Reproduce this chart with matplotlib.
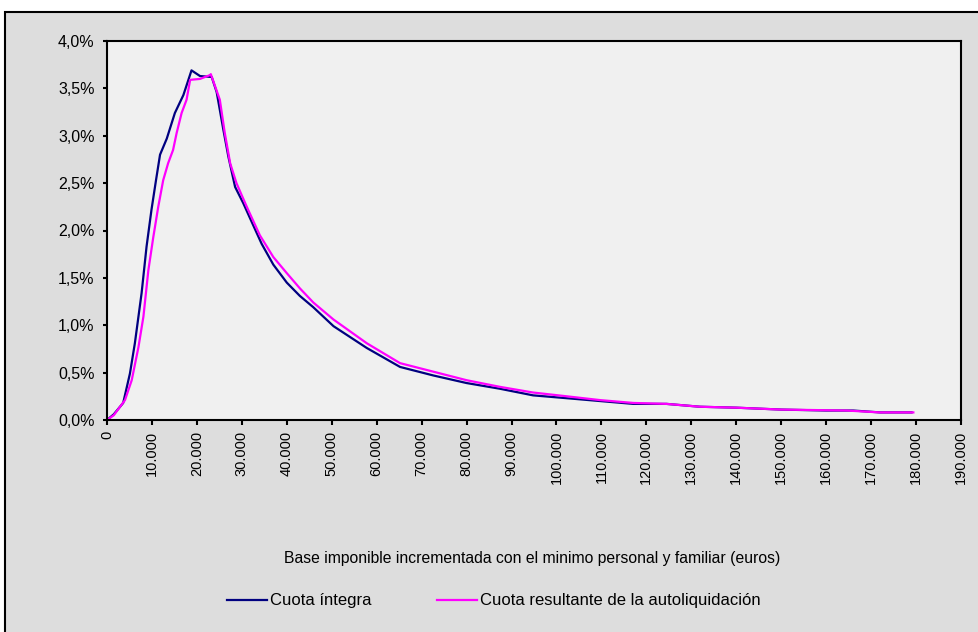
import matplotlib.pyplot as plt
from matplotlib.patches import Rectangle
from matplotlib.ticker import FuncFormatter

plt.rcParams['font.family'] = ['Liberation Sans', 'DejaVu Sans']

# Base imponible (euros) y porcentaje de la cuota en cada tramo
base_integra = [0, 1500, 3600, 5100, 6200, 7700, 8800, 9900, 10900, 11800,
                13300, 15100, 17000, 18800, 20700, 23300, 24400, 25900, 27000,
                28500, 30300, 32200, 34400, 37000, 40000, 42900, 45900, 50400,
                57800, 65200, 72600, 80000, 87400, 94800, 102300, 109700,
                117100, 124500, 131900, 140000, 150000, 160000, 166000,
                172000, 179000]
cuota_integra = [0.0, 0.06, 0.18, 0.49, 0.81, 1.34, 1.83, 2.22, 2.53, 2.80,
                 2.97, 3.24, 3.43, 3.69, 3.63, 3.62, 3.46, 3.06, 2.78,
                 2.46, 2.29, 2.09, 1.86, 1.64, 1.45, 1.31, 1.19, 0.99,
                 0.76, 0.56, 0.47, 0.39, 0.33, 0.26, 0.23, 0.20,
                 0.17, 0.17, 0.14, 0.13, 0.11, 0.10, 0.10,
                 0.08, 0.08]

base_autoliq = [0, 1500, 4000, 5500, 7000, 8100, 9200, 10300, 11400, 12500,
                13600, 14700, 15500, 16600, 17700, 18500, 20700, 22900, 23100,
                25100, 26200, 27400, 28800, 31100, 34000, 37000, 40000, 42900,
                45900, 50400, 57800, 65200, 72600, 80000, 87400, 94800,
                102300, 109700, 117100, 124500, 131900, 140000, 150000,
                164500, 172000, 179400]
cuota_autoliq = [0.0, 0.05, 0.21, 0.42, 0.77, 1.09, 1.58, 1.93, 2.25, 2.53,
                 2.71, 2.85, 3.03, 3.24, 3.38, 3.59, 3.60, 3.64, 3.65,
                 3.38, 3.03, 2.71, 2.50, 2.25, 1.95, 1.72, 1.55, 1.39,
                 1.24, 1.06, 0.81, 0.60, 0.51, 0.42, 0.35, 0.29,
                 0.25, 0.21, 0.18, 0.17, 0.14, 0.13, 0.11,
                 0.10, 0.08, 0.08]

xticks = list(range(0, 190001, 10000))
yticks = [0, 0.5, 1.0, 1.5, 2.0, 2.5, 3.0, 3.5, 4.0]

fig = plt.figure(figsize=(9.79, 6.32), dpi=100, facecolor='white')

# Marco gris exterior
fig.patches.append(Rectangle((5 / 979, -0.1), 1.0, 1.1 - 12 / 632,
                             transform=fig.transFigure, facecolor='#DDDDDD',
                             edgecolor='black', linewidth=1.5, zorder=-10))

ax = fig.add_axes([107 / 979, 1 - 420 / 632, (961 - 107) / 979, (420 - 41) / 632])
ax.set_facecolor('#F0F0F0')

ax.plot(base_integra, cuota_integra, color='#000080', linewidth=1.6,
        label='Cuota íntegra')
ax.plot(base_autoliq, cuota_autoliq, color='#FF00FF', linewidth=1.6,
        label='Cuota resultante de la autoliquidación')

ax.set_xlim(0, 190000)
ax.set_ylim(0, 4.0)
ax.set_xticks(xticks)
ax.set_yticks(yticks)
ax.xaxis.set_major_formatter(FuncFormatter(
    lambda v, p: f'{int(v):,}'.replace(',', '.')))
ax.yaxis.set_major_formatter(FuncFormatter(
    lambda v, p: f'{v:.1f}%'.replace('.', ',')))
ax.tick_params(axis='x', labelrotation=90, labelsize=10.5, length=3.5,
               width=1.5, direction='out', pad=4)
ax.tick_params(axis='y', labelsize=11.5, length=3, width=1.5, direction='out',
               pad=6)
for s in ax.spines.values():
    s.set_linewidth(1.5)

fig.text(532 / 979, 1 - 558 / 632,
         'Base imponible incrementada con el minimo personal y familiar (euros)',
         ha='center', va='center', fontsize=11.3)

fig.legend(loc='center', bbox_to_anchor=(494 / 979, 1 - 601 / 632),
           ncol=2, frameon=False, fontsize=12, handlelength=2.4,
           handletextpad=0.2, columnspacing=3.9)

fig.savefig('out.png', dpi=100, facecolor=fig.get_facecolor())
